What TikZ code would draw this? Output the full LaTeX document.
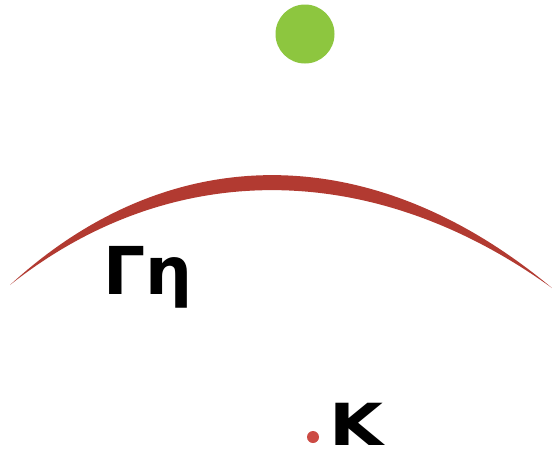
\documentclass[tikz,border=0pt]{standalone}
\usepackage{fontspec}
\newfontfamily\handfont{DejaVu Sans}
\definecolor{arcred}{HTML}{B23A31}
\definecolor{leaf}{HTML}{8DC63F}
\definecolor{dotred}{HTML}{CC4B44}
\begin{document}
\begin{tikzpicture}[x=1pt,y=-1pt,
  lbl/.style={font=\handfont\bfseries\fontsize{66}{66}\selectfont, inner sep=0pt, text=black}]
\useasboundingbox (0,0) rectangle (552,459);
\fill[white] (0,0) rectangle (552,459);
% green dot
\node[circle, fill=leaf, minimum size=59pt, inner sep=0pt] (sun) at (305,34) {};
% crescent arc
\fill[arcred] (10,285) .. controls (170,138) and (372,138) .. (552,288)
  .. controls (372,158) and (170,158) .. cycle;
% labels
\node[lbl, anchor=base west] (ge) at (103,294) {Γη};
\node[circle, fill=dotred, minimum size=12pt, inner sep=0pt] (pt) at (313,437) {};
\node[lbl, anchor=base west, xscale=1.2, text depth=0pt, font=\handfont\bfseries\fontsize{58}{58}\selectfont] (k) at (329,445) {K};
\end{tikzpicture}
\end{document}
